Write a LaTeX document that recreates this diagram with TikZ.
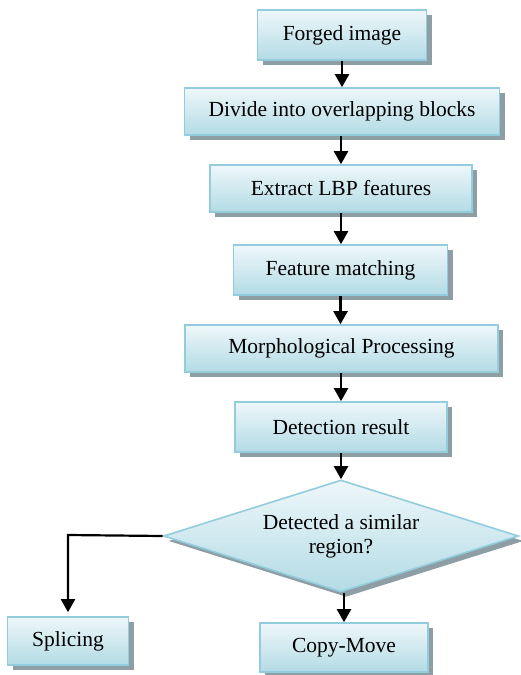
\documentclass[tikz,border=0pt]{standalone}
\usepackage{fontspec}
\setmainfont{Liberation Serif}
\usetikzlibrary{shapes.geometric,arrows.meta,shadows}
\definecolor{boxborder}{HTML}{93CDDD}
\definecolor{boxtop}{HTML}{EEF7FA}
\definecolor{boxbot}{HTML}{B3DBE5}
\definecolor{shadowgray}{HTML}{8E9EA5}
\tikzset{
  box/.style={draw=boxborder, line width=1.6pt, top color=boxtop, bottom color=boxbot,
    drop shadow={shadow xshift=5pt, shadow yshift=-5pt, fill=shadowgray, opacity=1},
    font=\fontsize{21.5}{24}\selectfont, inner sep=0pt, align=center},
  arr/.style={line width=2.2pt, -{Triangle[width=14pt,length=13pt]}}
}
\begin{document}
\begin{tikzpicture}[x=1pt,y=-1pt]
\useasboundingbox (0,0) rectangle (520,675);
\node[box, minimum width=169pt, minimum height=50pt] (forged) at (342,35) {Forged image};
\node[box, minimum width=315pt, minimum height=47pt] (divide) at (342,111.5) {Divide into overlapping blocks};
\node[box, minimum width=262pt, minimum height=47pt] (extract) at (341,188.5) {Extract LBP features};
\node[box, minimum width=214pt, minimum height=50pt] (match) at (340.5,270) {Feature matching};
\node[box, minimum width=313pt, minimum height=47pt] (morph) at (341.5,348.5) {Morphological Processing};
\node[box, minimum width=212pt, minimum height=50pt] (detect) at (341,427) {Detection result};
\node[box, shape=diamond, shape aspect=3.17, minimum width=355pt, minimum height=112pt] (decide) at (341,536) {Detected a similar\\[0pt]region?};
\node[box, minimum width=121pt, minimum height=48pt] (splice) at (68,641) {Splicing};
\node[box, minimum width=168pt, minimum height=49pt] (copy) at (344,647.5) {Copy-Move};
\coordinate (corner) at (68,535);
\draw[arr] (forged.south) -- (forged.south |- divide.north);
\draw[arr] (divide.south -| extract.north) -- (extract.north);
\draw[arr] (extract.south) -- (extract.south |- match.north);
\draw[arr] (match.south) -- (match.south |- morph.north);
\draw[arr] (morph.south -| detect.north) -- (detect.north);
\draw[arr] (detect.south) -- (decide.north);
\draw[arr] (decide.south -| copy.north) -- (copy.north);
\draw[arr, shorten >=4pt] (decide.west) -- (corner) -- (splice.north);
\end{tikzpicture}
\end{document}
